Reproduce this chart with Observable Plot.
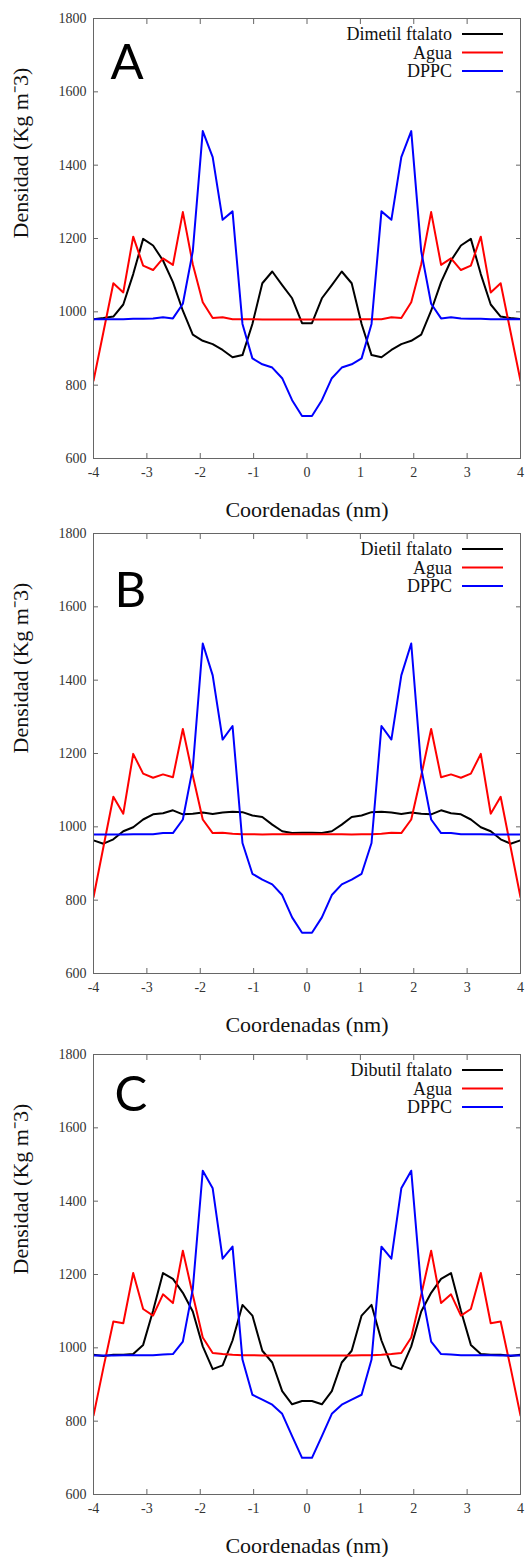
<!DOCTYPE html>
<html><head><meta charset="utf-8">
<script src="https://cdn.jsdelivr.net/npm/d3@7"></script>
<script src="https://cdn.jsdelivr.net/npm/@observablehq/plot@0.6"></script>
<style>
html,body{margin:0;padding:0;background:#fff;}
#root{position:relative;width:528px;height:1557px;overflow:hidden;background:#fff;}
.panel{position:absolute;left:0;}
#root svg{background:transparent;}
#root svg text{font-family:"Liberation Serif","Times New Roman",serif;}
</style></head><body><div id="root"></div>
<script>
// x coordinates (nm)
const coords = [-4.000,-3.814,-3.628,-3.442,-3.256,-3.070,-2.884,-2.698,-2.512,-2.326,-2.140,-1.953,-1.767,-1.581,-1.395,-1.209,-1.023,-0.837,-0.651,-0.465,-0.279,-0.093,
  0.093,0.279,0.465,0.651,0.837,1.023,1.209,1.395,1.581,1.767,1.953,2.140,2.326,2.512,2.698,2.884,3.070,3.256,3.442,3.628,3.814,4.000];

const xTicks = [-4,-3,-2,-1,0,1,2,3,4];
const yTicks = [600,800,1000,1200,1400,1600,1800];
const panelLetters = ["A","B","C"];
const soluteNames = ["Dimetil ftalato","Dietil ftalato","Dibutil ftalato"];
const waterName = "Agua";
const lipidName = "DPPC";
const xTitle = "Coordenadas (nm)";
const yTitle = "Densidad (Kg m\u207B3)";

// Panel A
const soluteA = [980,983,987,1020,1103,1199,1181,1140,1081,1003,938,921,912,896,876,882,967,1078,1110,1073,1037,969,
  969,1037,1073,1110,1078,967,882,876,896,912,921,938,1003,1081,1140,1181,1199,1103,1020,987,983,980];
const aguaA = [812,945,1078,1053,1205,1126,1114,1146,1128,1272,1130,1026,983,985,980,980,980,979,979,979,979,979,
  979,979,979,979,979,980,980,980,985,983,1026,1130,1272,1128,1146,1114,1126,1205,1053,1078,945,812];
const dppcA = [980,980,980,980,981,981,982,985,982,1022,1165,1493,1422,1251,1274,967,873,857,848,819,759,716,
  716,759,819,848,857,873,967,1274,1251,1422,1493,1165,1022,982,985,982,981,981,980,980,980,980];

// Panel B
const soluteB = [963,954,966,988,999,1020,1034,1037,1045,1034,1036,1039,1035,1039,1041,1040,1031,1027,1006,988,983,984,
  984,983,988,1006,1027,1031,1040,1041,1039,1035,1039,1036,1034,1045,1037,1034,1020,999,988,966,954,963];
const aguaB = [808,945,1082,1036,1199,1145,1134,1143,1135,1267,1140,1020,983,984,981,980,980,979,980,980,980,980,
  980,980,980,980,979,980,980,981,984,983,1020,1140,1267,1135,1143,1134,1145,1199,1036,1082,945,808];
const dppcB = [979,979,979,979,980,980,980,983,983,1020,1160,1500,1413,1238,1275,956,872,856,843,814,753,711,
  711,753,814,843,856,872,956,1275,1238,1413,1500,1160,1020,983,983,980,980,980,979,979,979,979];

// Panel C
const soluteC = [981,978,981,981,983,1008,1101,1204,1188,1150,1099,1004,942,952,1020,1117,1088,992,960,882,846,855,
  855,846,882,960,992,1088,1117,1020,952,942,1004,1099,1150,1188,1204,1101,1008,983,981,981,978,981];
const aguaC = [815,946,1072,1067,1204,1106,1088,1146,1122,1265,1145,1028,986,983,981,980,980,979,979,979,979,979,
  979,979,979,979,979,980,980,981,983,986,1028,1145,1265,1122,1146,1088,1106,1204,1067,1072,946,815];
const dppcC = [979,979,979,980,980,980,980,982,983,1017,1160,1483,1435,1243,1276,968,872,859,845,820,759,700,
  700,759,820,845,859,872,968,1276,1243,1435,1483,1160,1017,983,982,980,980,980,980,979,979,979];

const panels = [
  {letter: panelLetters[0], solute: soluteNames[0], s: soluteA, w: aguaA, d: dppcA, top: 0,   ldx: 17, ldy: 26},
  {letter: panelLetters[1], solute: soluteNames[1], s: soluteB, w: aguaB, d: dppcB, top: 515, ldx: 21, ldy: 39},
  {letter: panelLetters[2], solute: soluteNames[2], s: soluteC, w: aguaC, d: dppcC, top: 1036, ldx: 21, ldy: 22}
];
const seriesColors = ["#000000", "#ff0000", "#0000ff"];
const sans = "Lato, 'Open Sans', sans-serif";

const W = 528, H = 518, mT = 18, mB = 60, mL = 93, mR = 8;

const root = document.getElementById("root");
panels.forEach(p => {
  const names = [p.solute, waterName, lipidName];
  const series = [p.s, p.w, p.d];
  const rows = [];
  series.forEach((vals, k) => vals.forEach((v, i) => rows.push({x: coords[i], y: v, s: names[k]})));
  const chart = Plot.plot({
    width: W, height: H, marginTop: mT, marginBottom: mB, marginLeft: mL, marginRight: mR,
    style: {background: "transparent", overflow: "visible"},
    x: {domain: [-4, 4], ticks: xTicks},
    y: {domain: [600, 1800], ticks: yTicks},
    color: {domain: names, range: seriesColors},
    marks: [
      Plot.line(rows, {x: "x", y: "y", z: "s", stroke: "s", strokeWidth: 2, clip: true}),
      Plot.frame({stroke: "#666", strokeWidth: 1}),
      Plot.axisX(xTicks, {anchor: "bottom", tickSize: 5, dy: -5, fill: "none", label: null, stroke: "#666"}),
      Plot.axisX(xTicks, {anchor: "top", tickSize: 5, dy: 5, fill: "none", label: null, stroke: "#666"}),
      Plot.axisY(yTicks, {anchor: "left", tickSize: 5, dx: 5, fill: "none", label: null, stroke: "#666"}),
      Plot.axisY(yTicks, {anchor: "right", tickSize: 5, dx: -5, fill: "none", label: null, stroke: "#666"}),
      Plot.axisX(xTicks, {anchor: "bottom", tickSize: 0, tickPadding: 9, fontSize: 14, fill: "#333", label: null, tickFormat: d => String(d)}),
      Plot.axisY(yTicks, {anchor: "left", tickSize: 0, tickPadding: 7, fontSize: 14, fill: "#333", label: null, tickFormat: d => String(d)}),
      Plot.text([xTitle], {text: d => d, frameAnchor: "bottom", dy: 58, fontSize: 22, fill: "#111"}),
      Plot.text([yTitle], {text: d => d, frameAnchor: "left", dx: -73, rotate: -90, fontSize: 22, fill: "#111"}),
      Plot.text([p.letter], {text: d => d, frameAnchor: "top-left", dx: p.ldx, dy: p.ldy, fontSize: 49,
        textAnchor: "start", lineAnchor: "top", fill: "#000"})
    ]
  });
  const svg = d3.select(chart);
  // panel letter in a sans face
  svg.selectAll("text").filter(function() { return this.textContent === p.letter; }).style("font-family", sans);
  // legend (gnuplot style, top-right inside the frame)
  const g = svg.append("g").attr("font-size", 18);
  const right = W - mR;
  names.forEach((n, j) => {
    const yy = mT + 16 + 18.5 * j;
    g.append("text").attr("x", right - 68).attr("y", yy).attr("text-anchor", "end")
      .attr("dominant-baseline", "central").attr("fill", "#111").text(n);
    g.append("line").attr("x1", right - 58).attr("x2", right - 17).attr("y1", yy).attr("y2", yy)
      .attr("stroke", seriesColors[j]).attr("stroke-width", 2);
  });
  const div = document.createElement("div");
  div.className = "panel";
  div.style.top = p.top + "px";
  div.appendChild(chart);
  root.appendChild(div);
});
</script>
</body></html>
